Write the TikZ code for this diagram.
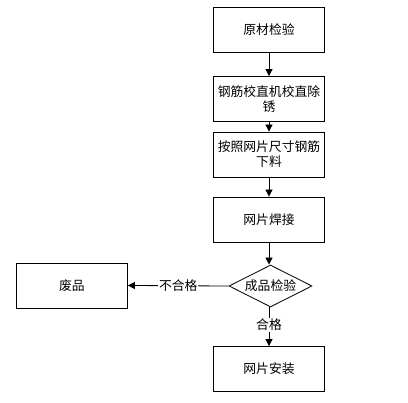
\documentclass[tikz,border=0pt]{standalone}
\usepackage{fontspec}
\setmainfont{Noto Sans CJK SC}
\usetikzlibrary{shapes.geometric,arrows.meta}
\begin{document}
\begin{tikzpicture}[x=1pt,y=-1pt,
  box/.style={draw=black,line width=0.8pt,minimum width=111pt,minimum height=45pt,text width=107pt,align=center,inner sep=2pt,font=\fontsize{12.8}{15}\selectfont},
  dia/.style={draw=black,line width=0.8pt,diamond,aspect=2,minimum width=83pt,minimum height=42pt,inner sep=0pt,font=\fontsize{12.8}{15}\selectfont},
  arr/.style={draw=black,line width=0.8pt,-{Triangle[length=7pt,width=7pt]}},
  lbl/.style={fill=white,inner sep=1pt,font=\fontsize{12.8}{15}\selectfont}]
\useasboundingbox[fill=white] (0,0) rectangle (408,403);
\node[box] (a) at (269,30) {原材检验};
\node[box] (b) at (269,99) {钢筋校直机校直除\\锈};
\node[box] (c) at (269,154.5) {按照网片尺寸钢筋\\下料};
\node[box] (d) at (269,219.5) {网片焊接};
\node[dia] (e) at (270.5,286) {成品检验};
\node[box] (f) at (72,285.5) {废品};
\node[box] (g) at (269,369) {网片安装};
\draw[arr] (a) -- (b);
\draw[arr] (b) -- (c);
\draw[arr] (c) -- (d);
\draw[arr] (d.south) -- (e.north -| d.south);
\draw[arr] (e.west) -- node[lbl] {不合格} (f.east);
\draw[arr] (e.south -| g.north) -- node[lbl,pos=0.45] {合格} (g.north);
\end{tikzpicture}
\end{document}
